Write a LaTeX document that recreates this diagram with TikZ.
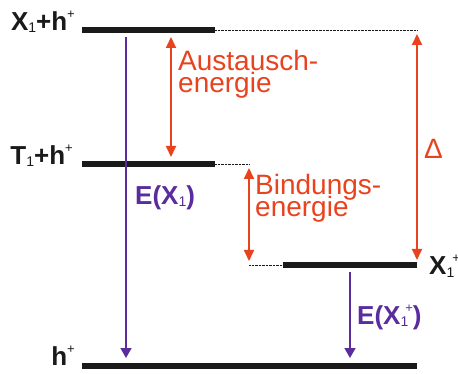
\documentclass[tikz,border=0pt]{standalone}
\usepackage{fontspec}
\setmainfont{Liberation Sans}
\usepackage{tikz}
\usetikzlibrary{arrows.meta}
\definecolor{figink}{HTML}{1A1A1A}
\definecolor{figred}{HTML}{E8431E}
\definecolor{figviolet}{HTML}{5A2D9E}
\newcommand{\lowidx}[1]{\raisebox{-2pt}{\fontsize{14}{14}\selectfont\mdseries #1}}
\newcommand{\upidx}[1]{\raisebox{12pt}{\fontsize{13}{13}\selectfont\mdseries #1}}
\setlength{\lineskiplimit}{-20pt}

\begin{document}
\begin{tikzpicture}[x=1pt, y=-1pt,
  levelbar/.style={figink, line width=6pt},
  dotlink/.style={figink, line width=0.6pt, dash pattern=on 0.7pt off 0.7pt},
  exarrow/.style={{Triangle[length=11pt,width=10pt]}-{Triangle[length=11pt,width=10pt]},
    figred, line width=2pt},
  transarrow/.style={-{Triangle[length=10pt,width=11pt]}, figviolet, line width=1.6pt},
  statelabel/.style={font=\fontsize{26}{26}\selectfont\bfseries, text=figink, inner sep=0pt},
  gaplabel/.style={font=\fontsize{28}{22.5}\selectfont,
    text=figred, inner sep=0pt, align=left},
  translabel/.style={font=\fontsize{26}{26}\selectfont\bfseries, text=figviolet, inner sep=0pt},
]
\useasboundingbox (0,0) rectangle (458,374);

% Energy levels: exciton, triplet, trion and the bare hole.
\coordinate (exc-l) at (82,30);   \coordinate (exc-r) at (215,30);
\coordinate (trip-l) at (82,164); \coordinate (trip-r) at (215,164);
\coordinate (trion-l) at (283,265); \coordinate (trion-r) at (417,265);
\coordinate (hole-l) at (82,366); \coordinate (hole-r) at (417,366);
\coordinate (exc-far) at (417,30);
\coordinate (trip-far) at (249,164);
\coordinate (trion-near) at (249,265);

\draw[levelbar] (exc-l) -- (exc-r);
\draw[levelbar] (trip-l) -- (trip-r);
\draw[levelbar] (trion-l) -- (trion-r);
\draw[levelbar] (hole-l) -- (hole-r);
\draw[dotlink] (exc-r) -- (exc-far);
\draw[dotlink] (trip-r) -- (trip-far);
\draw[dotlink] (trion-near) -- (trion-l);

\node[statelabel, anchor=base east] (exc-name) at (75,30.5)
  {X\lowidx{1}+h\upidx{+}};
\node[statelabel, anchor=base east] (trip-name) at (73,165)
  {T\lowidx{1}+h\upidx{+}};
\node[statelabel, anchor=base east] (hole-name) at (75,365) {h\upidx{+}};
\node[statelabel, anchor=base west] (trion-name) at (429,275)
  {X\lowidx{1}\kern-2pt\upidx{+}};

% Energy gaps between the levels.
\coordinate (aus-hi) at (171,30);  \coordinate (aus-lo) at (171,164);
\coordinate (bind-hi) at (249,164); \coordinate (bind-lo) at (249,265);
\coordinate (delta-hi) at (417,30); \coordinate (delta-lo) at (417,265);
\draw[exarrow, shorten <=7pt, shorten >=7pt] (aus-hi) -- (aus-lo);
\draw[exarrow, shorten <=4pt, shorten >=4pt] (bind-hi) -- (bind-lo);
\draw[exarrow, shorten <=4pt, shorten >=5pt] (delta-hi) -- (delta-lo);
\node[gaplabel, anchor=base west] (aus-text) at (178,92.7)
  {Austausch-\\energie};
\node[gaplabel, anchor=base west] (bind-text) at (255,217)
  {Bindungs-\\energie};
\node[gaplabel, anchor=base west] (delta-text) at (424,159) {Δ};

% Optical transitions down to the hole level.
\coordinate (ex-top) at (126,30);   \coordinate (ex-bot) at (126,366);
\coordinate (tr-top) at (350,265);  \coordinate (tr-bot) at (350,366);
\draw[transarrow, shorten <=7pt, shorten >=8pt] (ex-top) -- (ex-bot);
\draw[transarrow, shorten <=7pt, shorten >=8pt] (tr-top) -- (tr-bot);
\node[translabel, anchor=base west] (ex-energy) at (135,205)
  {E(X\lowidx{1})};
\node[translabel, anchor=base west] (tr-energy) at (357,324)
  {E(X\lowidx{1}\kern-3pt\upidx{+})};
\end{tikzpicture}
\end{document}
